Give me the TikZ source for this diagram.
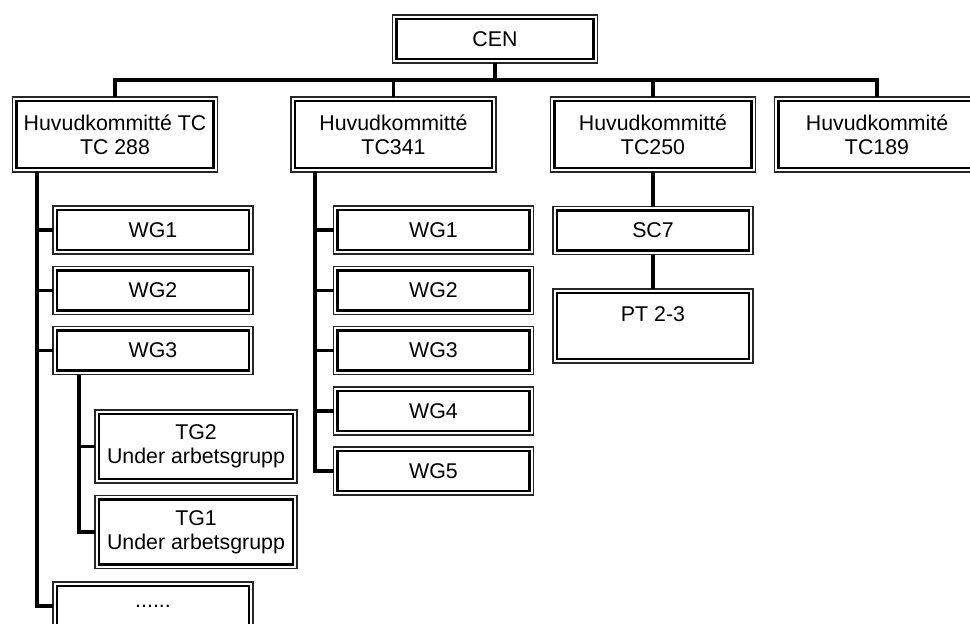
\documentclass[tikz,border=0pt]{standalone}
\usepackage{fontspec}
\setmainfont{Liberation Sans}
\begin{document}
\begin{tikzpicture}[x=0.75pt,y=-0.75pt,
  box/.style={draw=black, line width=2.2pt, align=center, inner sep=0pt, outer sep=3pt,
    font=\fontsize{16}{18}\selectfont},
  smallbox/.style={box, minimum width=144pt, minimum height=30pt},
  bigbox/.style={box, minimum width=147.75pt, minimum height=50.25pt},
  tgbox/.style={box, minimum width=145.5pt, minimum height=48.75pt},
  frame/.style={draw=black!85, line width=0.8pt},
  conn/.style={draw=black, line width=2.3pt}]
\useasboundingbox (0,0) rectangle (970,624);
\clip (0,0) rectangle (970,624);

% top
\node[box, minimum width=147.75pt, minimum height=30pt] (cen) at (495,39) {CEN};
\node[bigbox] (tc288) at (115,134.5) {Huvudkommitté TC\\TC 288};
\node[bigbox] (tc341) at (393.5,134.5) {Huvudkommitté\\TC341};
\node[bigbox] (tc250) at (653,134.5) {Huvudkommitté\\TC250};
\node[bigbox] (tc189) at (877,134.5) {Huvudkommité\\TC189};

% TC288 branch
\node[smallbox] (aw1) at (153,230) {WG1};
\node[smallbox] (aw2) at (153,290.5) {WG2};
\node[smallbox] (aw3) at (153,350.5) {WG3};
\node[tgbox] (tg2) at (196,446.5) {TG2\\Under arbetsgrupp};
\node[tgbox] (tg1) at (196,532) {TG1\\Under arbetsgrupp};
\node[smallbox] (dots) at (153,606) {......};

% TC341 branch
\node[smallbox] (bw1) at (433.5,230) {WG1};
\node[smallbox] (bw2) at (433.5,290.5) {WG2};
\node[smallbox] (bw3) at (433.5,350.5) {WG3};
\node[smallbox] (bw4) at (433.5,411) {WG4};
\node[smallbox] (bw5) at (433.5,471) {WG5};

% TC250 branch
\node[smallbox] (sc7) at (653,230.5) {SC7};
\node[box, minimum width=144pt, minimum height=49.5pt] (pt) at (653,326) {PT 2-3\\\mbox{}};

% outer thin frames
\foreach \n in {cen,tc288,tc341,tc250,tc189,aw1,aw2,aw3,tg2,tg1,dots,bw1,bw2,bw3,bw4,bw5,sc7,pt}
  \draw[frame] (\n.south west) rectangle (\n.north east);

% connectors
\coordinate (barL) at (115,80);
\coordinate (barR) at (877,80);
\draw[conn] (cen.south) -- (cen.south |- barL);
\draw[conn] (tc288.north) -- (barL) -- (barR) -- (tc189.north);
\draw[conn] (tc341.north |- barL) -- (tc341.north);
\draw[conn] (tc250.north |- barL) -- (tc250.north);

\coordinate (la) at (37,0);
\draw[conn] (tc288.south -| la) |- (dots.west);
\foreach \n in {aw1,aw2,aw3}
  \draw[conn] (\n.west -| la) -- (\n.west);

\coordinate (lb) at (79,0);
\draw[conn] (aw3.south -| lb) |- (tg1.west);
\draw[conn] (tg2.west -| lb) -- (tg2.west);

\coordinate (lc) at (315,0);
\draw[conn] (tc341.south -| lc) |- (bw5.west);
\foreach \n in {bw1,bw2,bw3,bw4}
  \draw[conn] (\n.west -| lc) -- (\n.west);

\draw[conn] (tc250.south) -- (sc7.north);
\draw[conn] (sc7.south) -- (pt.north);
\end{tikzpicture}
\end{document}
